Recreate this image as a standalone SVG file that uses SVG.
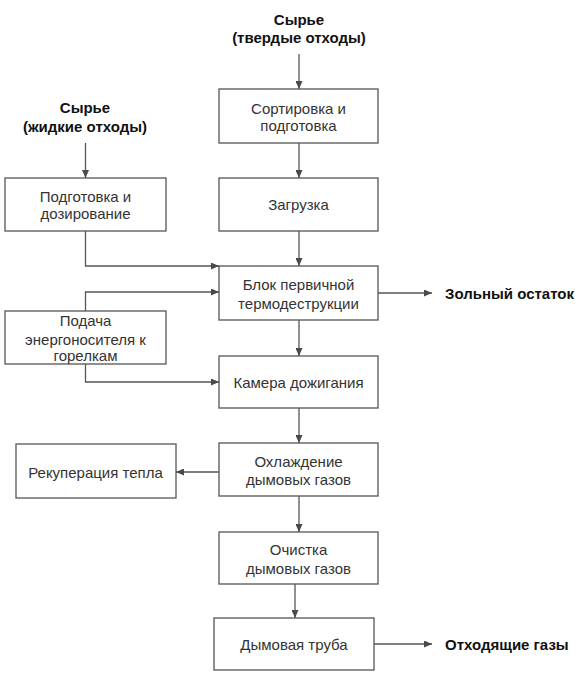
<svg xmlns="http://www.w3.org/2000/svg" width="583" height="680" viewBox="0 0 583 680">
<defs>
<marker id="ah" markerWidth="8" markerHeight="7" refX="8" refY="3.5" orient="auto" markerUnits="userSpaceOnUse">
<path d="M0,0 L8,3.5 L0,7 Z" fill="#4a4a4a"/>
</marker>
<style>
.box{fill:#fff;stroke:#555;stroke-width:1.3}
.t{font-family:"Liberation Sans",Arial,sans-serif;font-size:15px;fill:#333;text-anchor:middle;dominant-baseline:central}
.b{font-family:"Liberation Sans",Arial,sans-serif;font-size:15px;font-weight:bold;fill:#111;dominant-baseline:central}
.c{fill:none;stroke:#555;stroke-width:1.3;marker-end:url(#ah)}
</style>
</defs>
<rect width="583" height="680" fill="#fff"/>
<g id="labels">
<text class="b" x="299" y="19" text-anchor="middle">Сырье</text>
<text class="b" x="299" y="37" text-anchor="middle">(твердые отходы)</text>
<text class="b" x="85" y="107" text-anchor="middle">Сырье</text>
<text class="b" x="85" y="126" text-anchor="middle">(жидкие отходы)</text>
<text class="b" x="445" y="293">Зольный остаток</text>
<text class="b" x="445" y="644">Отходящие газы</text>
</g>
<g id="sort"><rect class="box" x="219" y="89" width="159" height="54"/><text class="t" x="298.5" y="108">Сортировка и</text><text class="t" x="298.5" y="125">подготовка</text></g>
<g id="prep"><rect class="box" x="5" y="178" width="161" height="53"/><text class="t" x="85.5" y="196">Подготовка и</text><text class="t" x="85.5" y="213">дозирование</text></g>
<g id="load"><rect class="box" x="219" y="178" width="159" height="53"/><text class="t" x="298.5" y="204">Загрузка</text></g>
<g id="primary"><rect class="box" x="219" y="266" width="159" height="54"/><text class="t" x="298.5" y="284">Блок первичной</text><text class="t" x="298.5" y="303">термодеструкции</text></g>
<g id="fuel"><rect class="box" x="5" y="311" width="161" height="53"/><text class="t" x="85.5" y="320">Подача</text><text class="t" x="85.5" y="339">энергоносителя к</text><text class="t" x="85.5" y="355">горелкам</text></g>
<g id="after"><rect class="box" x="219" y="356" width="159" height="52"/><text class="t" x="298.5" y="382">Камера дожигания</text></g>
<g id="cool"><rect class="box" x="219" y="443" width="159" height="53"/><text class="t" x="298.5" y="461">Охлаждение</text><text class="t" x="298.5" y="479">дымовых газов</text></g>
<g id="recup"><rect class="box" x="16" y="444" width="160" height="54"/><text class="t" x="95.5" y="472">Рекуперация тепла</text></g>
<g id="clean"><rect class="box" x="219" y="532" width="159" height="52"/><text class="t" x="298.5" y="549">Очистка</text><text class="t" x="298.5" y="568">дымовых газов</text></g>
<g id="stack"><rect class="box" x="214" y="618" width="160" height="52"/><text class="t" x="294" y="644">Дымовая труба</text></g>
<g id="connectors">
<path class="c" d="M299,54 V89"/>
<path class="c" d="M85.5,143 V178"/>
<path class="c" d="M299,143 V178"/>
<path class="c" d="M299,231 V266"/>
<path class="c" d="M85.5,231 V266 H219"/>
<path class="c" d="M85.5,311 V292 H219"/>
<path class="c" d="M85.5,364 V382 H219"/>
<path class="c" d="M378,293 H432"/>
<path class="c" d="M299,320 V356"/>
<path class="c" d="M299,408 V443"/>
<path class="c" d="M219,472 H176"/>
<path class="c" d="M299,496 V532"/>
<path class="c" d="M295,584 V618"/>
<path class="c" d="M374,644 H432"/>
</g>
</svg>
